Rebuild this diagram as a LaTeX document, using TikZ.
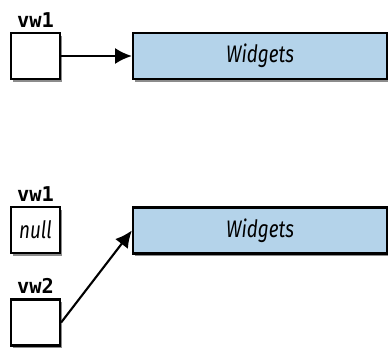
\documentclass[tikz,border=0pt]{standalone}
\usepackage{fontspec}
\setmainfont{Fira Sans}
\setmonofont{DejaVu Sans Mono}
\newfontfamily\objfont[FakeStretch=0.79]{Fira Sans}
\usetikzlibrary{positioning, arrows.meta, shadows}
\definecolor{objblue}{RGB}{180,211,234}

\begin{document}
\begin{tikzpicture}[x=0.25mm, y=-0.25mm]
    \tikzset {
        ref box/.style={
                draw,
                line width=1.6pt,
                fill=white,
                inner sep=0pt,
                minimum width=12.25mm,
                minimum height=11.5mm,
                font=\objfont\itshape\fontsize{17}{17}\selectfont,
                drop shadow={shadow xshift=1.2pt, shadow yshift=-2pt, opacity=0.45, fill=black}
            },
        obj box/.style={ref box, fill=objblue, minimum width=63.5mm},
        var name/.style={font=\ttfamily\bfseries\fontsize{14.5}{14.5}\selectfont, inner sep=1pt},
        ref arrow/.style={-{Latex[length=4.2mm, width=4mm]}, line width=1.5pt}
    }
    \useasboundingbox (0,0) rectangle (388,348);

    % one reference
    \node[ref box, label={[var name, label distance=2pt]above:vw1}] (vwa) at (35.5,56) {};
    \node[obj box] (widgetsa) at (260,56) {Widgets};

    % vw1 set to null, vw2 kept
    \node[ref box, label={[var name, label distance=2pt]above:vw1}] (vwb) at (35.5,230) {null};
    \node[obj box] (widgetsb) at (260,230.5) {Widgets};
    \node[ref box, label={[var name, label distance=2pt]above:vw2}] (vwc) at (35.5,322.5) {};

    % arrows
    \draw[ref arrow] (vwa) -- (widgetsa);
    \draw[ref arrow] (vwc.east) -- (widgetsb.west);
\end{tikzpicture}
\end{document}
